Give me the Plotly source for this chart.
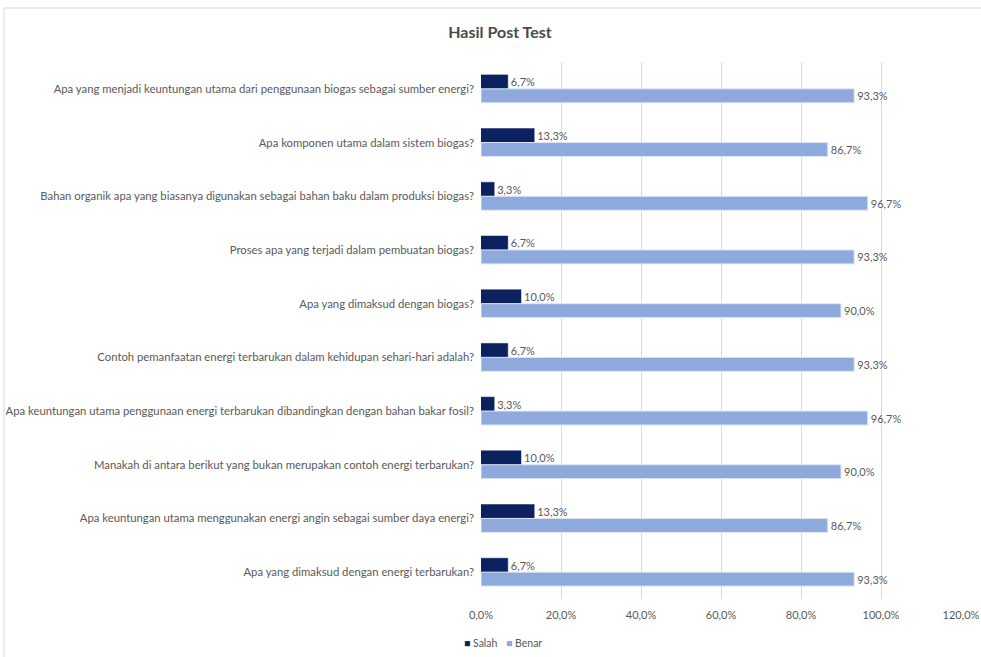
import plotly.graph_objects as go

categories = [
    "Apa yang menjadi keuntungan utama dari penggunaan biogas sebagai sumber energi?",
    "Apa komponen utama dalam sistem biogas?",
    "Bahan organik apa yang biasanya digunakan sebagai bahan baku dalam produksi biogas?",
    "Proses apa yang terjadi dalam pembuatan biogas?",
    "Apa yang dimaksud dengan biogas?",
    "Contoh pemanfaatan energi terbarukan dalam kehidupan sehari-hari adalah?",
    "Apa keuntungan utama penggunaan energi terbarukan dibandingkan dengan bahan bakar fosil?",
    "Manakah di antara berikut yang bukan merupakan contoh energi terbarukan?",
    "Apa keuntungan utama menggunakan energi angin sebagai sumber daya energi?",
    "Apa yang dimaksud dengan energi terbarukan?",
]
salah = [6.7, 13.3, 3.3, 6.7, 10.0, 6.7, 3.3, 10.0, 13.3, 6.7]
benar = [93.3, 86.7, 96.7, 93.3, 90.0, 93.3, 96.7, 90.0, 86.7, 93.3]
x_ticks = [0, 20, 40, 60, 80, 100, 120]
x_ticktext = ["0,0%", "20,0%", "40,0%", "60,0%", "80,0%", "100,0%", "120,0%"]

FONT = "Lato"
GRAY = "#595959"
C_SALAH = "#0c2260"
C_BENAR = "#8eaadc"

fig = go.Figure()
fig.add_trace(go.Bar(
    y=categories, x=salah, name="Salah", orientation="h", showlegend=False,
    marker=dict(color=C_SALAH, line=dict(color=C_SALAH, width=0.5)),
    texttemplate="%{x:.1f}%", textposition="outside", cliponaxis=False,
    textfont=dict(family=FONT, size=11, color=GRAY),
))
fig.add_trace(go.Bar(
    y=categories, x=benar, name="Benar", orientation="h", showlegend=False,
    marker=dict(color=C_BENAR, line=dict(color="#dfe7f6", width=1)),
    texttemplate="%{x:.1f}%", textposition="outside", cliponaxis=False,
    textfont=dict(family=FONT, size=11, color=GRAY),
))

fig.update_layout(
    width=981, height=657,
    margin=dict(l=481, r=20, t=62, b=58, autoexpand=False),
    paper_bgcolor="white", plot_bgcolor="white",
    separators=",.",
    barmode="group", bargap=0.48, bargroupgap=0,
    font=dict(family=FONT, size=11, color=GRAY),
    showlegend=False,
    title=dict(text="Hasil Post Test", x=500 / 981, xanchor="center", y=0.951, yanchor="middle",
               font=dict(family=FONT, size=16, color="#4a4a4a", weight=700)),
    xaxis=dict(range=[0, 120], tickmode="array", tickvals=x_ticks, ticktext=x_ticktext,
               showgrid=True, gridcolor="#d9d9d9", gridwidth=1, zeroline=False,
               showline=False, ticks="outside", ticklen=6, tickcolor="rgba(0,0,0,0)",
               automargin=False,
               tickfont=dict(family=FONT, size=11, color=GRAY)),
    yaxis=dict(autorange="reversed", showgrid=False, showline=False, zeroline=False,
               ticks="", ticklabelstandoff=6, automargin=False,
               tickfont=dict(family=FONT, size=11.3, color=GRAY)),
    annotations=[
        dict(xref="paper", yref="paper", x=(462 - 481) / 480, y=(599 - 643) / 537,
             xanchor="left", yanchor="middle", showarrow=False,
             text=f"<span style='color:{C_SALAH}'>■</span> Salah",
             font=dict(family=FONT, size=10.5, color=GRAY)),
        dict(xref="paper", yref="paper", x=(504 - 481) / 480, y=(599 - 643) / 537,
             xanchor="left", yanchor="middle", showarrow=False,
             text=f"<span style='color:{C_BENAR}'>■</span> Benar",
             font=dict(family=FONT, size=10.5, color=GRAY)),
    ],
    shapes=[dict(type="rect", xref="paper", yref="paper",
                 x0=(4 - 481) / 480, x1=1.2, y0=-0.3, y1=(599 - 8) / 537,
                 line=dict(color="#d9d9d9", width=1), layer="below")],
)

fig.write_html("out.html")
